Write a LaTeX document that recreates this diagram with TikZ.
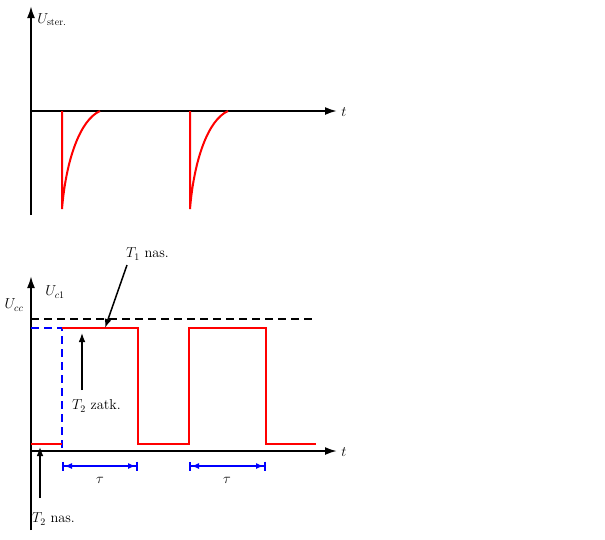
\documentclass[tikz,border=0pt]{standalone}
\usepackage{amsmath,amssymb}
\usetikzlibrary{arrows.meta}

\begin{document}
\begin{tikzpicture}[x=1pt, y=-1pt, line width=1.5pt,
    axis/.style = {draw, line width=2pt, -{Latex[length=12pt,width=8pt]}},
    sig/.style = {draw=red, line width=2.5pt},
    lvl/.style = {line width=2pt, dash pattern=on 8pt off 5pt},
    dur/.style = {draw=blue, line width=2pt, {Bar[width=9pt]Latex[length=8pt]}-{Latex[length=8pt]Bar[width=9pt]}},
    lab/.style = {font=\Large}]
\useasboundingbox (0,0) rectangle (605,539);
% upper plot
\coordinate (o1) at (31,111);
\draw[axis] (31,215) -- (31,6);
\draw[axis] (o1) -- (337,111);
\node[lab] (t1) at (344,112) {$t$};
\node[lab] (u1) at (52,20) {$U_{\text{ster.}}$};
\foreach \x in {62,190} {
  \draw[red, line width=2pt] (\x,111) -- (\x,209) .. controls (\x+4,160) and (\x+18,120) .. (\x+38,111);
}
% lower plot
\draw[axis] (31,530) -- (31,276);
\draw[axis] (31,451) -- (337,451);
\node[lab] (t2) at (344,452) {$t$};
\node[lab] (ucc) at (14,305) {$U_{cc}$};
\node[lab] (uc1) at (55,292) {$U_{c1}$};
\draw[lvl] (31,319) -- (316,319);
\draw[lvl, blue] (31,328) -- (62,328) -- (62,451);
\draw[sig] (31,444) -- (62,444) (62,328) -- (138,328) -- (138,444) -- (189,444) -- (189,328) -- (266,328) -- (266,444) -- (316,444);
\draw[dur] (62,466) -- (138,466);
\draw[dur] (189,466) -- (266,466);
\node[lab] (tau1) at (100,480) {$\tau$};
\node[lab] (tau2) at (227,480) {$\tau$};
% annotations
\node[lab, anchor=west] (t1nas) at (122,254) {$T_1$ nas.};
\node[lab, anchor=west] (t2zatk) at (68,406) {$T_2$ zatk.};
\node[lab, anchor=west] (t2nas) at (28,519) {$T_2$ nas.};
\coordinate (p1) at (105,328);
\coordinate (p2) at (82,333);
\coordinate (p3) at (40,447);
\draw[-{Latex[length=9pt]}] (127,265) -- (p1);
\draw[-{Latex[length=9pt]}] (82,390) -- (p2);
\draw[-{Latex[length=9pt]}] (40,498) -- (p3);
\end{tikzpicture}
\end{document}
